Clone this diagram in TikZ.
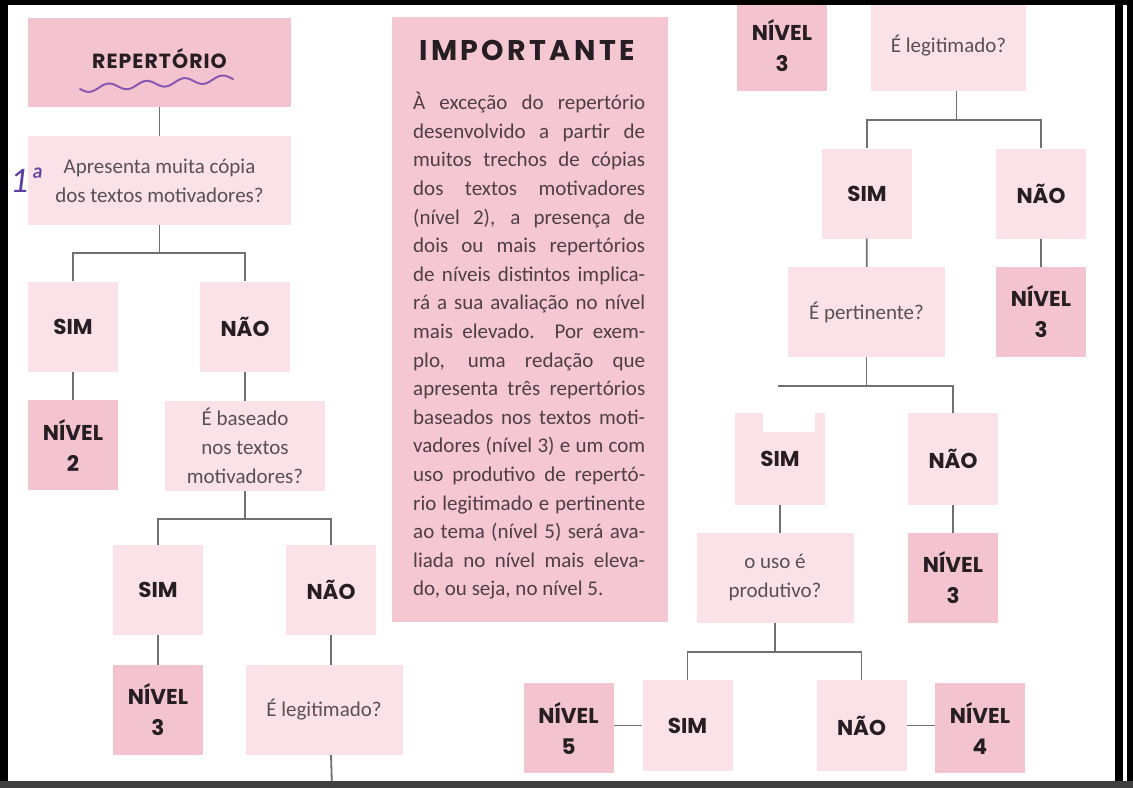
\documentclass[tikz,border=0pt]{standalone}
\usepackage{fontspec}
\setmainfont{Carlito}
\newfontfamily\headfont{Poppins}
\usepackage{xcolor}
\usetikzlibrary{positioning, calc}

\definecolor{boxlight}{RGB}{251,225,232}
\definecolor{boxdark}{RGB}{243,196,208}
\definecolor{boximp}{RGB}{245,199,211}
\definecolor{linkgray}{RGB}{112,112,112}
\definecolor{asktext}{RGB}{88,80,86}
\definecolor{imptext}{RGB}{80,62,70}
\definecolor{headtext}{RGB}{38,30,34}
\definecolor{ink}{RGB}{138,88,178}
\definecolor{inkblue}{RGB}{92,64,160}

\begin{document}
\begin{tikzpicture}[x=1pt, y=-1pt,
    ans/.style={fill=boxlight, minimum width=90pt, minimum height=90pt, inner sep=0pt,
        text=headtext, font=\headfont\bfseries\fontsize{21.5}{24}\selectfont},
    lvl/.style={ans, fill=boxdark, align=center, font=\headfont\bfseries\fontsize{21.5}{31}\selectfont},
    ask/.style={fill=boxlight, minimum width=157pt, minimum height=90pt, inner sep=0pt,
        align=center, text=asktext, font=\fontsize{21}{29}\selectfont},
    link/.style={draw=linkgray, line width=1.8pt}]
    \useasboundingbox (0,0) rectangle (1133,788);
    \fill[white] (0,0) rectangle (1133,788);

    % left column
    \node[fill=boxdark, minimum width=263pt, minimum height=89pt] (rep) at (159.5,62.5) {};
    \node[text=headtext, font=\headfont\bfseries\addfontfeatures{LetterSpace=5}\fontsize{20.5}{24}\selectfont]
        (reptxt) at (159.5,59) {REPERTÓRIO};
    \node[ask, minimum width=263pt, minimum height=89pt] (q1) at (159.5,180.5)
        {Apresenta muita cópia\\dos textos motivadores?};
    \node[ans] (sim1) at (73,326.5) {SIM};
    \node[ans] (nao1) at (245,326.5) {NÃO};
    \node[lvl] (lvl2) at (73,445) {NÍVEL\\2};
    \node[ask, minimum width=160pt] (q2) at (245,446) {É baseado\\nos textos\\motivadores?};
    \node[ans] (sim2) at (158,590) {SIM};
    \node[ans] (nao2) at (331,590) {NÃO};
    \node[lvl] (lvl3a) at (158,710) {NÍVEL\\3};
    \node[ask] (q3) at (324,710) {É legitimado?};
    \coordinate (tail) at (332,788);

    \draw[link] (rep) -- (q1);
    \draw[link] (q1.south) -- ++(0,28) coordinate (j1);
    \draw[link] (sim1.north) |- (j1) -| (nao1.north);
    \draw[link] (sim1) -- (lvl2);
    \draw[link] (nao1) -- (q2);
    \draw[link] (q2.south) -- ++(0,28) coordinate (j2);
    \draw[link] (sim2.north) |- (j2) -| (nao2.north);
    \draw[link] (sim2) -- (lvl3a);
    \draw[link] (nao2.south) -- (nao2.south |- q3.north);
    \draw[link] (nao2.south |- q3.south) -- (tail);

    % box in the middle
    \node[fill=boximp, minimum width=276pt, minimum height=605pt, anchor=north west] (imp) at (392,17) {};
    \node[text=headtext, font=\headfont\bfseries\addfontfeatures{LetterSpace=12}\fontsize{28.5}{30}\selectfont]
        (imptitle) at (527,50) {IMPORTANTE};
    \node[anchor=north west, inner sep=0pt, align=left, text=imptext,
        font=\fontsize{21}{28.6}\selectfont] (imptxt) at (413,92) {%
        \makebox[232pt][s]{À exceção do repertório}\\
        \makebox[232pt][s]{desenvolvido a partir de}\\
        \makebox[232pt][s]{muitos trechos de cópias}\\
        \makebox[232pt][s]{dos textos motivadores}\\
        \makebox[232pt][s]{(nível 2), a presença de}\\
        \makebox[232pt][s]{dois ou mais repertórios}\\
        \makebox[232pt][s]{de níveis distintos implica-}\\
        \makebox[232pt][s]{rá a sua avaliação no nível}\\
        \makebox[232pt][s]{mais elevado. Por exem-}\\
        \makebox[232pt][s]{plo, uma redação que}\\
        \makebox[232pt][s]{apresenta três repertórios}\\
        \makebox[232pt][s]{baseados nos textos moti-}\\
        \makebox[232pt][s]{vadores (nível 3) e um com}\\
        \makebox[232pt][s]{uso produtivo de repertó-}\\
        \makebox[232pt][s]{rio legitimado e pertinente}\\
        \makebox[232pt][s]{ao tema (nível 5) será ava-}\\
        \makebox[232pt][s]{liada no nível mais eleva-}\\
        do, ou seja, no nível 5.};

    % right column
    \node[lvl, minimum height=91pt] (lvl3b) at (782,45.5) {NÍVEL\\3};
    \node[ask, minimum width=155pt, minimum height=91pt] (q4) at (948.5,45.5) {É legitimado?};
    \node[ans] (sim3) at (867,193.5) {SIM};
    \node[ans] (nao3) at (1041,193.5) {NÃO};
    \node[ask] (q5) at (866.5,312) {É pertinente?};
    \node[lvl] (lvl3c) at (1041,312) {NÍVEL\\3};
    \node[ans, minimum height=92pt] (sim4) at (780,459) {SIM};
    \node[ans, minimum height=92pt] (nao4) at (953,459) {NÃO};
    \node[ask] (q6) at (775,578) {o uso é\\produtivo?};
    \node[lvl] (lvl3d) at (953,578) {NÍVEL\\3};
    \node[ans, minimum height=91pt] (sim5) at (687.5,725.5) {SIM};
    \node[ans, minimum height=91pt] (nao5) at (861.5,725.5) {NÃO};
    \node[lvl] (lvl5) at (568.5,728) {NÍVEL\\5};
    \node[lvl] (lvl4) at (980,728) {NÍVEL\\4};

    \draw[link] ([xshift=8pt]q4.south) -- ++(0,29) coordinate (j4);
    \draw[link] (sim3.north) |- (j4) -| (nao3.north);
    \draw[link] (sim3) -- (q5);
    \draw[link] (nao3) -- (lvl3c);
    \draw[link] (q5.south) -- ++(0,29) coordinate (j5);
    \coordinate (j5l) at (778,0);
    \draw[link] (j5l |- j5) -- (j5) -| (nao4.north);
    \fill[white] (763,413) rectangle (815,432);
    \draw[link] (sim4.south) -- (sim4.south |- q6.north);
    \draw[link] (nao4) -- (lvl3d);
    \draw[link] (q6.south) -- ++(0,29) coordinate (j6);
    \draw[link] (sim5.north) |- (j6) -| (nao5.north);
    \draw[link] (lvl5.east |- sim5) -- (sim5.west);
    \draw[link] (nao5.east) -- (lvl4.west |- nao5);

    % handwriting
    \draw[ink, line width=2pt, line cap=round, line join=round]
        plot[domain=80:233, samples=120] (\x, {89 - 0.07*(\x-80) + 3.5*sin(9.5*(\x-80))});
    \node[text=inkblue, font=\itshape\fontsize{36}{36}\selectfont] (mark) at (27,180) {1ª};

    % screen frame
    \fill[black] (0,0) rectangle (1133,5);
    \fill[black] (0,0) rectangle (8,788);
    \fill[black] (1115,0) rectangle (1123,788);
    \fill[black] (1127,0) rectangle (1133,788);
    \fill[black!75] (0,781) rectangle (1133,788);
\end{tikzpicture}
\end{document}
